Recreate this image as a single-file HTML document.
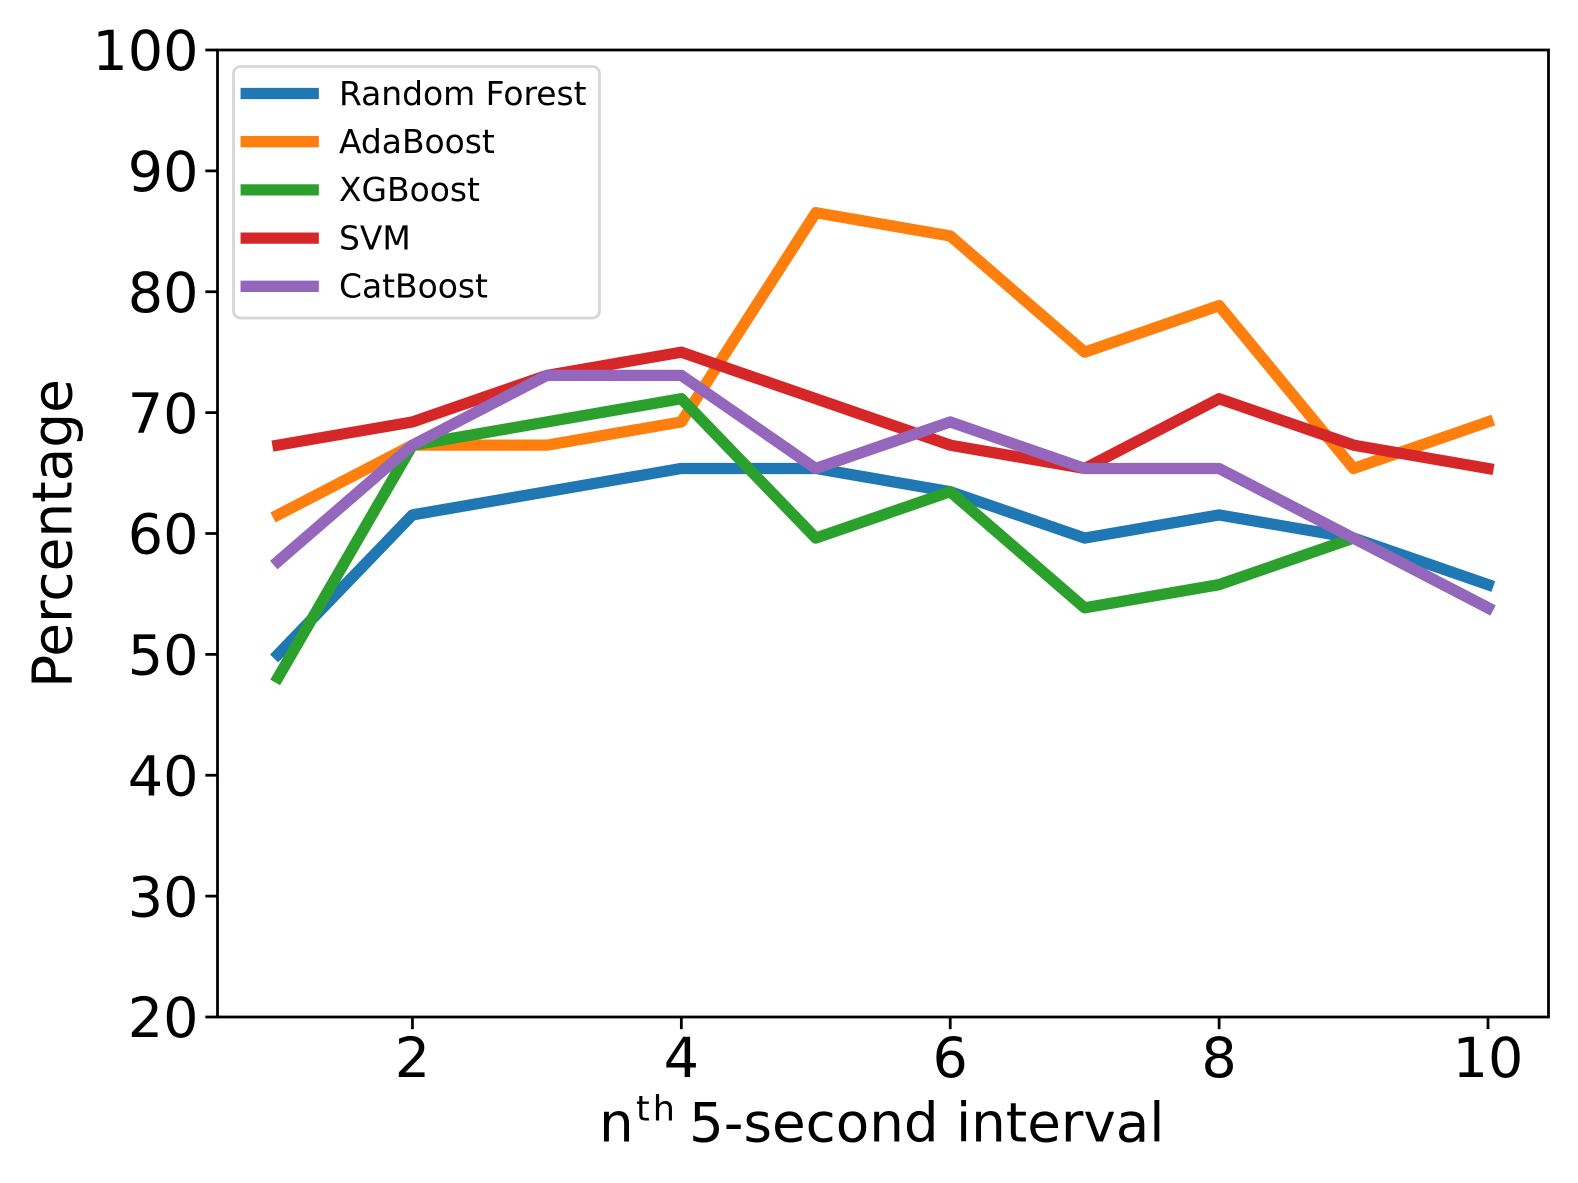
<!DOCTYPE html>
<html lang="en">
<head>
<meta charset="utf-8">
<title>Percentage per 5-second interval</title>
<style>
  html, body { margin: 0; padding: 0; background: #fff; }
  svg { display: block; font-family: "DejaVu Sans", "Liberation Sans", sans-serif; }
  text { fill: #000; }
</style>
</head>
<body>
<svg id="chart" xmlns="http://www.w3.org/2000/svg" width="1578" height="1183" viewBox="0 0 1578 1183">
  <rect x="0" y="0" width="1578" height="1183" fill="#ffffff"/>
  <g id="series-layer"></g>
  <g id="axes-layer"></g>
  <text transform="translate(71.5,533.5) rotate(-90)" text-anchor="middle" font-size="54.9">Percentage</text>
  <text y="1141.5" font-size="54.7"><tspan x="599">n</tspan><tspan x="636" dy="-21" font-size="35" letter-spacing="3">th</tspan><tspan x="689" dy="21">5-second interval</tspan></text>
  <g id="legend-layer"></g>
</svg>
<script>
const intervals = [1, 2, 3, 4, 5, 6, 7, 8, 9, 10];
const randomForest = [50, 61.54, 63.46, 65.38, 65.38, 63.46, 59.62, 61.54, 59.62, 55.77];
const adaBoost = [61.54, 67.31, 67.31, 69.23, 86.54, 84.62, 75, 78.85, 65.38, 69.23];
const xgBoost = [48.08, 67.31, 69.23, 71.15, 59.62, 63.46, 53.85, 55.77, 59.62, 53.85];
const svm = [67.31, 69.23, 73.08, 75, 71.15, 67.31, 65.38, 71.15, 67.31, 65.38];
const catBoost = [57.69, 67.31, 73.08, 73.08, 65.38, 69.23, 65.38, 65.38, 59.62, 53.85];
const seriesNames = ["Random Forest", "AdaBoost", "XGBoost", "SVM", "CatBoost"];
const seriesValues = [randomForest, adaBoost, xgBoost, svm, catBoost];
const seriesColors = ["#1f77b4", "#ff7f0e", "#2ca02c", "#d62728", "#9467bd"];
const xTicks = [2, 4, 6, 8, 10];
const yTicks = [20, 30, 40, 50, 60, 70, 80, 90, 100];

const NS = "http://www.w3.org/2000/svg";
const plot = { left: 217.5, right: 1548.5, top: 50, bottom: 1017 };
const xMin = Math.min(...intervals);
const xMax = Math.max(...intervals);
const xPad = (xMax - xMin) * 0.05;
const yMin = yTicks[0];
const yMax = yTicks[yTicks.length - 1];

function xScale(v) {
  return plot.left + (v - (xMin - xPad)) / (xMax - xMin + 2 * xPad) * (plot.right - plot.left);
}
function yScale(v) {
  return plot.bottom - (v - yMin) / (yMax - yMin) * (plot.bottom - plot.top);
}
function make(tag, attrs, parent) {
  const el = document.createElementNS(NS, tag);
  for (const k in attrs) el.setAttribute(k, attrs[k]);
  parent.appendChild(el);
  return el;
}
function slug(s) {
  return s.toLowerCase().replace(/\s+/g, "-");
}

const seriesLayer = document.getElementById("series-layer");
const axesLayer = document.getElementById("axes-layer");
const legendLayer = document.getElementById("legend-layer");

seriesValues.forEach(function (vals, i) {
  const pts = vals.map(function (v, j) {
    return xScale(intervals[j]).toFixed(2) + "," + yScale(v).toFixed(2);
  }).join(" ");
  const line = make("polyline", {
    points: pts, fill: "none", stroke: seriesColors[i], "stroke-width": 11.3,
    "stroke-linecap": "square", "stroke-linejoin": "round"
  }, seriesLayer);
  
  
});

const frame = make("rect", {
  x: plot.left, y: plot.top, width: plot.right - plot.left, height: plot.bottom - plot.top,
  fill: "none", stroke: "#000", "stroke-width": 2.78
}, axesLayer);



yTicks.forEach(function (t) {
  const y = yScale(t);
  const mark = make("line", {
    x1: plot.left - 12.15, x2: plot.left, y1: y, y2: y, stroke: "#000", "stroke-width": 2.78
  }, axesLayer);
  
  
  const label = make("text", {
    x: 198.5, y: y + 20.2, "text-anchor": "end", "font-size": 55.6
  }, axesLayer);
  
  
  label.textContent = t;
});

xTicks.forEach(function (t) {
  const x = xScale(t);
  const mark = make("line", {
    x1: x, x2: x, y1: plot.bottom, y2: plot.bottom + 12.15, stroke: "#000", "stroke-width": 2.78
  }, axesLayer);
  
  
  const label = make("text", {
    x: x, y: 1077, "text-anchor": "middle", "font-size": 55.6
  }, axesLayer);
  
  
  label.textContent = t;
});

const legendBox = make("rect", {
  x: 233.5, y: 66.5, width: 366, height: 251.5, rx: 7, ry: 7,
  fill: "#ffffff", "fill-opacity": 0.8, stroke: "#d6d6d6", "stroke-width": 2.78
}, legendLayer);



seriesNames.forEach(function (name, i) {
  const cy = 93.5 + i * 48.2;
  const swatch = make("line", {
    x1: 246.2, x2: 313.2, y1: cy, y2: cy, stroke: seriesColors[i], "stroke-width": 11.3,
    "stroke-linecap": "square"
  }, legendLayer);
  
  
  const label = make("text", {
    x: 339, y: cy + 11.3, "font-size": 32.9
  }, legendLayer);
  
  
  label.textContent = name;
});
</script>
</body>
</html>
